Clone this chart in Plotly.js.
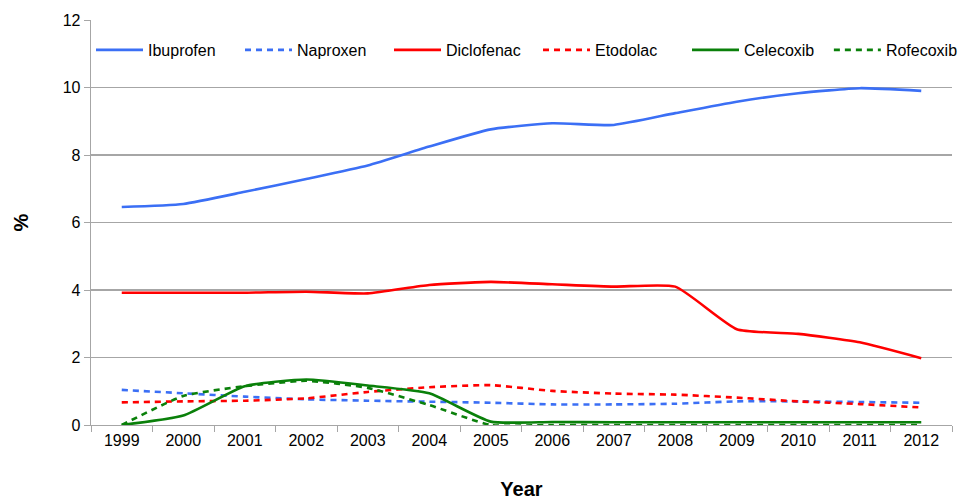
<!DOCTYPE html>
<html>
<head>
<meta charset="utf-8">
<script src="https://cdn.plot.ly/plotly-3.0.1.min.js"></script>
<style>html,body{margin:0;padding:0;background:#fff;}#chart{width:976px;height:500px;}</style>
</head>
<body>
<div id="chart"></div>
<script>
const years = ['1999','2000','2001','2002','2003','2004','2005','2006','2007','2008','2009','2010','2011','2012'];
const ibuprofen  = [6.46, 6.55, 6.91, 7.29, 7.69, 8.25, 8.76, 8.94, 8.89, 9.24, 9.58, 9.83, 9.98, 9.9];
const naproxen   = [1.04, 0.94, 0.84, 0.76, 0.72, 0.69, 0.66, 0.61, 0.61, 0.63, 0.70, 0.70, 0.68, 0.66];
const diclofenac = [3.92, 3.92, 3.92, 3.95, 3.9, 4.15, 4.24, 4.17, 4.1, 4.1, 2.84, 2.7, 2.45, 1.98];
const etodolac   = [0.67, 0.70, 0.72, 0.79, 0.98, 1.12, 1.18, 1.01, 0.93, 0.90, 0.81, 0.70, 0.62, 0.52];
const celecoxib  = [0.0, 0.28, 1.15, 1.35, 1.17, 0.94, 0.1, 0.09, 0.08, 0.08, 0.08, 0.08, 0.08, 0.08];
const rofecoxib  = [0.0, 0.86, 1.15, 1.31, 1.1, 0.59, 0.0, 0.0, 0.0, 0.0, 0.0, 0.0, 0.0, 0.0];

const names = ['Ibuprofen','Naproxen','Diclofenac','Etodolac','Celecoxib','Rofecoxib'];
const series = [ibuprofen, naproxen, diclofenac, etodolac, celecoxib, rofecoxib];
const colors = ['#3b6ff5','#3b6ff5','#ff0000','#ff0000','#0a800a','#0a800a'];
const dashes = ['solid','6px,5px','solid','6px,5px','solid','6px,5px'];

const traces = series.map((s, i) => ({
  x: years, y: s, name: names[i], type: 'scatter', mode: 'lines',
  legend: i === 5 ? 'legend2' : 'legend',
  line: {color: colors[i], width: 2.6, dash: dashes[i], shape: 'spline', smoothing: 0.5}
}));

const font = {family: 'Liberation Sans, Arial, sans-serif', size: 16, color: '#000'};
const legendBase = {orientation: 'h', xanchor: 'left', y: 0.926, yanchor: 'middle',
           font: font, bgcolor: 'rgba(0,0,0,0)', itemwidth: 47, entrywidth: 87, traceorder: 'normal'};
const layout = {
  width: 976, height: 500,
  margin: {l: 91, r: 24, t: 20, b: 75},
  paper_bgcolor: '#fff', plot_bgcolor: '#fff',
  font: font,
  showlegend: true,
  legend: Object.assign({}, legendBase, {x: 0}),
  legend2: Object.assign({}, legendBase, {x: 0.857, entrywidth: 0}),
  xaxis: {type: 'category', range: [-0.5, 13.5], tickson: 'boundaries', showgrid: false, showline: true, linecolor: '#a6a6a6', linewidth: 1.3,
          ticks: 'outside', ticklen: 6, tickcolor: '#a6a6a6', tickfont: font, zeroline: false,
          title: {text: 'Year', font: {family: 'Liberation Sans, Arial, sans-serif', size: 20, color: '#000', weight: 'bold'}, standoff: 38}},
  yaxis: {range: [0, 12], dtick: 2, showgrid: true, gridcolor: '#a6a6a6', gridwidth: 1.3, showline: true, linecolor: '#a6a6a6', linewidth: 1.3,
          ticks: 'outside', ticklen: 6, tickcolor: '#a6a6a6', tickfont: font, zeroline: false,
          title: {text: '%', font: {family: 'Liberation Sans, Arial, sans-serif', size: 20, color: '#000', weight: 'bold'}, standoff: 28}}
};
Plotly.newPlot('chart', traces, layout, {displayModeBar: false, staticPlot: true});
</script>
</body>
</html>
